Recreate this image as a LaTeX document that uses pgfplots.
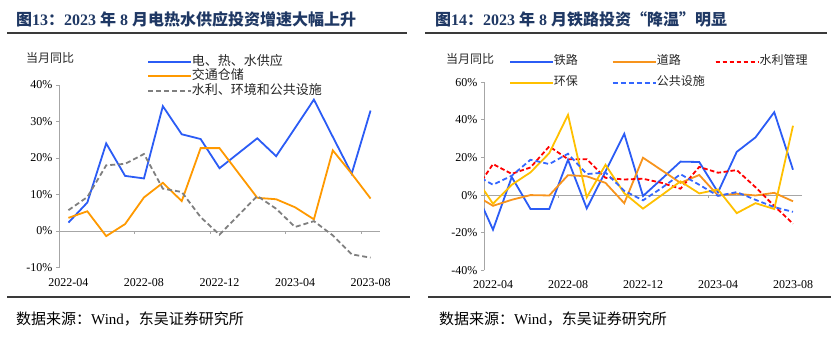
\documentclass[border=0pt]{standalone}
\usepackage{fontspec}
\setmainfont{Liberation Serif}
\newfontfamily\cjk{Noto Sans CJK SC}
\usepackage{pgfplots}
\pgfplotsset{compat=1.18}
\definecolor{navy}{HTML}{1F3864}
\definecolor{rulegray}{HTML}{3A3A3A}
\definecolor{axgray}{HTML}{A6A6A6}
\definecolor{cblue}{HTML}{2B5CF5}
\definecolor{corange}{HTML}{FF9900}
\definecolor{cgray}{HTML}{7F7F7F}
\definecolor{rorange}{HTML}{F7941D}
\definecolor{rred}{HTML}{FF0000}
\definecolor{ryellow}{HTML}{FFC000}
\definecolor{rblue}{HTML}{3366FF}
\pgfplotsset{
  mystyle/.style={
    scale only axis, anchor=south west,
    axis lines*=left, separate axis lines,
    x axis line style={draw=none},
    y axis line style={draw=axgray, line width=0.8pt},
    tick align=outside,
    major tick length=3pt,
    ytick style={draw=axgray, line width=0.8pt},
    xtick style={draw=none},
    tick label style={font=\fontsize{12}{12}\selectfont, text=black},
    xticklabel style={yshift=-4pt},
    extra y ticks={0}, extra y tick labels={},
    extra y tick style={grid=major, major grid style={draw=axgray, line width=0.8pt}, ytick style={draw=none}},
    every axis plot/.append style={line width=1.8pt, no markers},
    legend style={draw=none, fill=none, inner sep=0pt, anchor=north west,
      nodes={inner sep=0pt, anchor=west, text=black!85}},
    legend cell align=left,
    legend image code/.code={\draw[##1] (0pt,0pt) -- (39pt,0pt); \path (0pt,0pt) -- (43pt,0pt);},
  }
}
\begin{document}
\begin{tikzpicture}[x=1pt,y=1pt]
\useasboundingbox (0,0) rectangle (831,-340);
% titles
\node[anchor=west, text=navy, font=\fontsize{16}{16}\selectfont\bfseries, inner sep=0pt] at (16,-19)
  {{\cjk 图}13{\cjk ：}2023 {\cjk 年} 8 {\cjk 月电热水供应投资增速大幅上升}};
\node[anchor=west, text=navy, font=\fontsize{16}{16}\selectfont\bfseries, inner sep=0pt] at (435,-19)
  {{\cjk 图}14{\cjk ：}2023 {\cjk 年} 8 {\cjk 月铁路投资“降温”明显}};
\draw[line width=2.2pt, rulegray] (7,-33) -- (407,-33);
\draw[line width=2.2pt, rulegray] (425,-33) -- (827,-33);
\draw[line width=2.2pt, rulegray] (7,-297) -- (410,-297);
\draw[line width=2.2pt, rulegray] (428,-297) -- (831,-297);
\node[anchor=west, font=\fontsize{15}{15}\selectfont, inner sep=0pt] at (16,-319) {{\cjk 数据来源：}Wind{\cjk ，东吴证券研究所}};
\node[anchor=west, font=\fontsize{15}{15}\selectfont, inner sep=0pt] at (439,-319) {{\cjk 数据来源：}Wind{\cjk ，东吴证券研究所}};
\node[anchor=west, font=\fontsize{12}{12}\selectfont\cjk, inner sep=0pt, text=black!85] at (26,-58) {当月同比};
\node[anchor=west, font=\fontsize{12}{12}\selectfont\cjk, inner sep=0pt, text=black!85] at (446,-59) {当月同比};

% left axis
\begin{axis}[mystyle,
  at={(59pt,-267.5pt)}, width=321pt, height=182.5pt,
  xmin=-0.5, xmax=16.5, ymin=-10, ymax=40,
  ytick={-10,0,10,20,30,40}, yticklabels={-10\%,0\%,10\%,20\%,30\%,40\%},
  xtick={0,4,8,12,16}, xticklabels={2022-04,2022-08,2022-12,2023-04,2023-08},
  legend style={at={(0.274,1.164)}, row sep=1.5pt,
    font=\fontsize{13}{13}\selectfont\cjk, nodes={text height=10pt, text depth=3pt}},
]
\addplot[cblue] coordinates {(0,2.3)(1,7.8)(2,24.0)(3,15.1)(4,14.4)(5,34.2)(6,26.5)(7,25.2)(8,17.2)(9,21.3)(10,25.4)(11,20.5)(12,28.2)(13,36.0)(14,25.8)(15,15.7)(16,33.0)};
\addlegendentry{电、热、水供应}
\addplot[corange] coordinates {(0,3.6)(1,5.4)(2,-1.4)(3,1.9)(4,9.2)(5,13.2)(6,8.2)(7,22.7)(8,22.7)(9,15.9)(10,9.1)(11,8.7)(12,6.5)(13,3.2)(14,22.1)(15,15.7)(16,8.9)};
\addlegendentry{交通仓储}
\addplot[cgray, dash pattern=on 5pt off 3pt] coordinates {(0,5.7)(1,9.3)(2,18.0)(3,18.4)(4,21.1)(5,11.6)(6,10.7)(7,3.8)(8,-1.0)(9,4.3)(10,9.6)(11,6.1)(12,1.1)(13,2.7)(14,-1.2)(15,-6.4)(16,-7.3)};
\addlegendentry{水利、环境和公共设施}
\foreach \xx in {3.5,7.5,11.5,15.5} {\edef\tmp{\noexpand\draw[axgray, line width=0.8pt] (axis cs:\xx,0) -- ++(0pt,-3pt);}\tmp}
\end{axis}

% right axis
\begin{axis}[mystyle,
  at={(484pt,-270.3pt)}, width=318pt, height=188pt,
  xmin=-0.48, xmax=16.48, ymin=-40, ymax=60,
  ytick={-40,-20,0,20,40,60}, yticklabels={-40\%,-20\%,0\%,20\%,40\%,60\%},
  xtick={0,4,8,12,16}, xticklabels={2022-04,2022-08,2022-12,2023-04,2023-08},
  legend columns=3,
  legend style={at={(0.0786,1.143)}, row sep=9pt,
    font=\fontsize{12}{12}\selectfont\cjk, nodes={text height=9pt, text depth=3pt}},
]
\addplot[cblue] coordinates {(-1,3.7)(0,-18.4)(1,9.6)(2,-7.4)(3,-7.4)(4,18.8)(5,-7.1)(6,12.6)(7,32.6)(8,-0.5)(9,8.6)(10,17.8)(11,17.6)(12,1.5)(13,23.0)(14,30.7)(15,44.1)(16,13.5)};
\addlegendentry{\makebox[58pt][l]{铁路}}
\addplot[rorange] coordinates {(-1,0.3)(0,-5.7)(1,-2.5)(2,0.0)(3,-0.2)(4,10.6)(5,10.0)(6,6.5)(7,-4.3)(8,19.9)(9,13.2)(10,6.5)(11,10.7)(12,-0.2)(13,0.7)(14,-0.2)(15,1.2)(16,-3.3)};
\addlegendentry{\makebox[58pt][l]{道路}}
\addplot[rred, dash pattern=on 4.5pt off 2.5pt] coordinates {(-1,1.7)(0,16.5)(1,11.3)(2,14.7)(3,25.9)(4,19.1)(5,19.1)(6,9.2)(7,8.3)(8,8.7)(9,6.5)(10,3.4)(11,15.0)(12,11.9)(13,13.3)(14,4.2)(15,-5.8)(16,-15.2)};
\addlegendentry{水利管理}
\addplot[ryellow] coordinates {(-1,10.2)(0,-4.6)(1,5.5)(2,12.1)(3,22.3)(4,42.7)(5,-1.2)(6,16.1)(7,1.0)(8,-7.2)(9,0.0)(10,7.3)(11,0.9)(12,3.0)(13,-9.6)(14,-4.3)(15,-7.4)(16,36.9)};
\addlegendentry{\makebox[58pt][l]{环保}}
\addplot[rblue, dash pattern=on 5pt off 3pt] coordinates {(-1,11.1)(0,5.5)(1,10.3)(2,18.8)(3,16.5)(4,22.0)(5,11.2)(6,12.0)(7,2.3)(8,-2.8)(9,3.8)(10,11.1)(11,5.5)(12,-0.4)(13,1.6)(14,-2.5)(15,-6.4)(16,-8.9)};
\addlegendentry{公共设施}
\foreach \xx in {3.5,11.5} {\edef\tmp{\noexpand\draw[axgray, line width=0.8pt] (axis cs:\xx,0) -- ++(0pt,-3pt);}\tmp}
\end{axis}
\end{tikzpicture}
\end{document}
